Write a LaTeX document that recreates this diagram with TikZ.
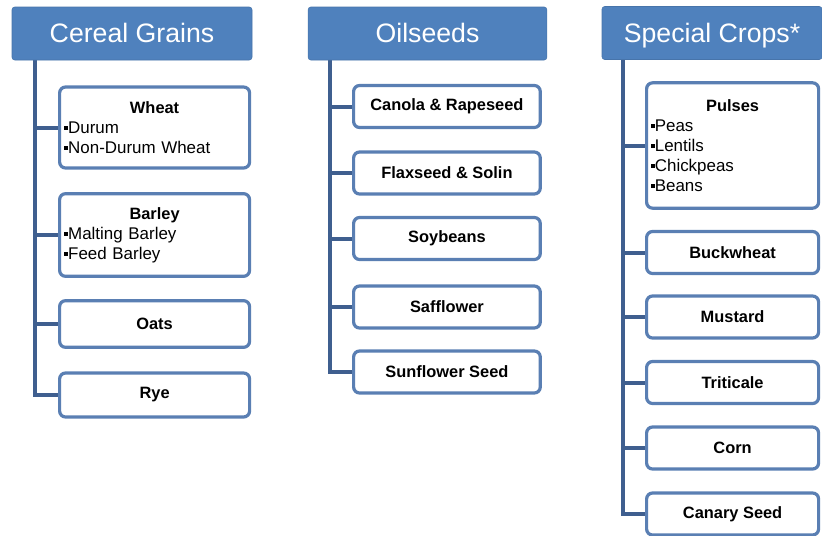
\documentclass[tikz,border=0pt]{standalone}
\usepackage{fontspec}
\setmainfont{Liberation Sans}
\usepackage{xcolor}
\usepackage{tikz}
\usetikzlibrary{positioning,calc,backgrounds}
\definecolor{HeadBlue}{HTML}{4F81BD}
\definecolor{EdgeBlue}{HTML}{5A7FB3}
\definecolor{TrunkBlue}{HTML}{3F5F8F}
\newcommand{\bul}{\rule[0.2em]{3.2pt}{3.2pt}}

\begin{document}
\begin{tikzpicture}[x=0.75pt, y=-0.75pt,
      hd/.style={rectangle, rounded corners=2pt, draw=HeadBlue!90!black,
                 fill=HeadBlue, text=white, font=\fontsize{20}{24}\selectfont,
                 text height=14.5pt, text depth=0.5pt,
                 inner sep=0pt, minimum height=39.75pt},
      kid/.style={rectangle, rounded corners=4.5pt, draw=EdgeBlue, line width=2.4pt,
                  fill=white, font=\fontsize{12.3}{14}\selectfont\bfseries,
                  inner sep=0pt, minimum height=31.5pt, anchor=west},
      lst/.style={kid, font=\fontsize{12.7}{15}\selectfont, align=left,
                  inner xsep=3pt},
      tr/.style={draw=TrunkBlue, line width=3pt},
    ]
      \useasboundingbox (0,0) rectangle (822,536);
      % headers
      \node[hd, minimum width=180pt] (cg) at (132,33.5) {Cereal Grains};
      \node[hd, minimum width=179pt] (os) at (427.5,33.5) {Oilseeds};
      \node[hd, minimum width=165pt] (sc) at (712,33) {Special Crops*};
      \coordinate (cgt) at (35,60);
      \coordinate (ost) at (330,60);
      \coordinate (sct) at (623,59);

      % cereal grains
      \node[lst, minimum width=142.5pt, minimum height=60.75pt, text width=136pt] (wheat) at (58,127.5)
        {{\centering\bfseries\fontsize{12.3}{14}\selectfont Wheat\par}\bul Durum\\\bul Non-Durum Wheat};
      \node[lst, minimum width=142.5pt, minimum height=62pt, text width=136pt] (barley) at (58,235)
        {{\centering\bfseries\fontsize{12.3}{14}\selectfont Barley\par}\bul Malting Barley\\\bul Feed Barley};
      \node[kid, minimum width=142.5pt, minimum height=35pt] (oats) at (58,324) {Oats};
      \node[kid, minimum width=142.5pt, minimum height=33pt] (rye) at (58,395) {Rye};

      % oilseeds
      \node[kid, minimum width=140pt] (canola) at (352,106.5) {Canola \& Rapeseed};
      \node[kid, minimum width=140pt] (flax) at (352,173) {Flaxseed \& Solin};
      \node[kid, minimum width=140pt] (soy) at (352,238.5) {Soybeans};
      \node[kid, minimum width=140pt] (saff) at (352,307) {Safflower};
      \node[kid, minimum width=140pt] (sunfl) at (352,372) {Sunflower Seed};

      % special crops
      \node[lst, minimum width=129pt, minimum height=94pt, text width=123pt] (pulses) at (645,145.5)
        {{\centering\bfseries\fontsize{12.3}{14}\selectfont Pulses\par}\bul Peas\\\bul Lentils\\\bul Chickpeas\\\bul Beans};
      \node[kid, minimum width=129pt] (buck) at (645,252.5) {Buckwheat};
      \node[kid, minimum width=129pt] (must) at (645,317) {Mustard};
      \node[kid, minimum width=129pt] (trit) at (645,382.5) {Triticale};
      \node[kid, minimum width=129pt] (corn) at (645,448) {Corn};
      \node[kid, minimum width=129pt] (canary) at (645,514) {Canary Seed};

      % trunks behind the boxes
      \begin{scope}[on background layer]
        \foreach \k in {wheat,barley,oats,rye}
          \draw[tr] (cgt) |- (\k.west);
        \foreach \k in {canola,flax,soy,saff,sunfl}
          \draw[tr] (ost) |- (\k.west);
        \foreach \k in {pulses,buck,must,trit,corn,canary}
          \draw[tr] (sct) |- (\k.west);
      \end{scope}
    \end{tikzpicture}
\end{document}
